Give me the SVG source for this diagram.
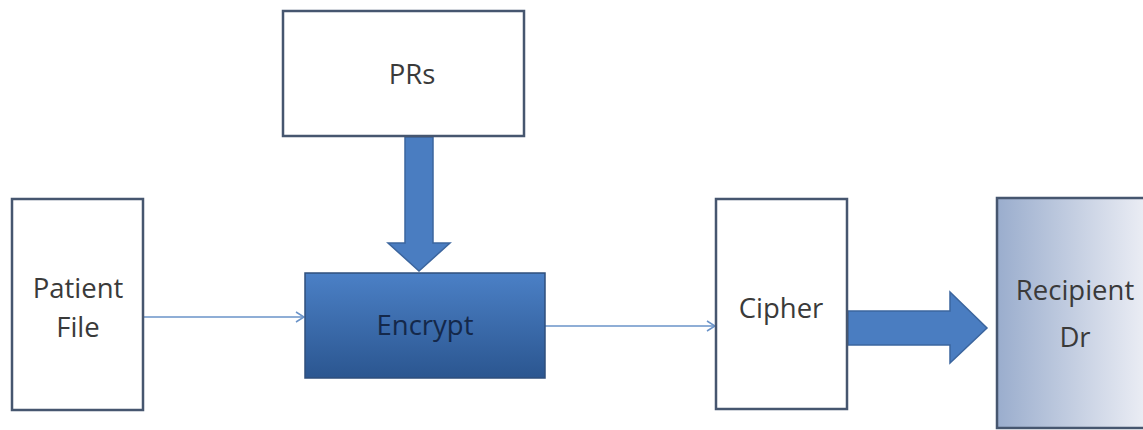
<svg xmlns="http://www.w3.org/2000/svg" width="1143" height="430" viewBox="0 0 1143 430">
  <style>
    .box { fill: #ffffff; stroke: #46566f; stroke-width: 2.5; }
    .label { font-family: "Open Sans", "Liberation Sans", sans-serif; font-size: 27.5px; fill: #3a3a3a; text-anchor: middle; }
    .thin { stroke: #6a93c8; stroke-width: 1.5; fill: none; }
    .block { fill: #4a7dc1; stroke: #3b659e; stroke-width: 1.5; }
  </style>
  <defs>
    <linearGradient id="encGrad" x1="0" y1="0" x2="0" y2="1">
      <stop offset="0" stop-color="#4b80c6"/>
      <stop offset="1" stop-color="#2b5690"/>
    </linearGradient>
    <linearGradient id="recGrad" x1="0" y1="0" x2="1" y2="0">
      <stop offset="0" stop-color="#9aadcd"/>
      <stop offset="1" stop-color="#eceef5"/>
    </linearGradient>
    <marker id="open" markerWidth="12" markerHeight="12" refX="10" refY="6" orient="auto" markerUnits="userSpaceOnUse">
      <path d="M2,1 L10,6 L2,11" fill="none" stroke="#6a93c8" stroke-width="1.5"/>
    </marker>
  </defs>

  <rect width="1143" height="430" fill="#ffffff"/>

  <g id="connectors">
    <line class="thin" x1="143" y1="317" x2="304" y2="317" marker-end="url(#open)"/>
    <line class="thin" x1="545" y1="326" x2="715" y2="326" marker-end="url(#open)"/>
    <!-- block arrow PRs -> Encrypt -->
    <path class="block" d="M405,137 L433,137 L433,243 L450,243 L419,271 L388,243 L405,243 Z"/>
    <!-- block arrow Cipher -> Recipient -->
    <path class="block" d="M848,311 L950,311 L950,292 L987,328 L950,363 L950,345 L848,345 Z"/>
  </g>

  <g id="prs">
    <rect class="box" x="283" y="11" width="241" height="125"/>
    <text class="label" x="412" y="84">PRs</text>
  </g>

  <g id="patient-file">
    <rect class="box" x="12" y="199" width="131" height="211"/>
    <text class="label" x="78" y="298">Patient</text>
    <text class="label" x="78" y="337">File</text>
  </g>

  <g id="encrypt">
    <rect x="305" y="273" width="240" height="105" fill="url(#encGrad)" stroke="#2f4f7c" stroke-width="1.5"/>
    <text class="label" x="425" y="335" style="fill:#14284a">Encrypt</text>
  </g>

  <g id="cipher">
    <rect class="box" x="716" y="199" width="131" height="210"/>
    <text class="label" x="781" y="318">Cipher</text>
  </g>

  <g id="recipient">
    <rect x="997" y="198" width="150" height="230" fill="url(#recGrad)" stroke="#46566f" stroke-width="2.5"/>
    <text class="label" x="1075" y="300">Recipient</text>
    <text class="label" x="1075" y="347">Dr</text>
  </g>
</svg>
